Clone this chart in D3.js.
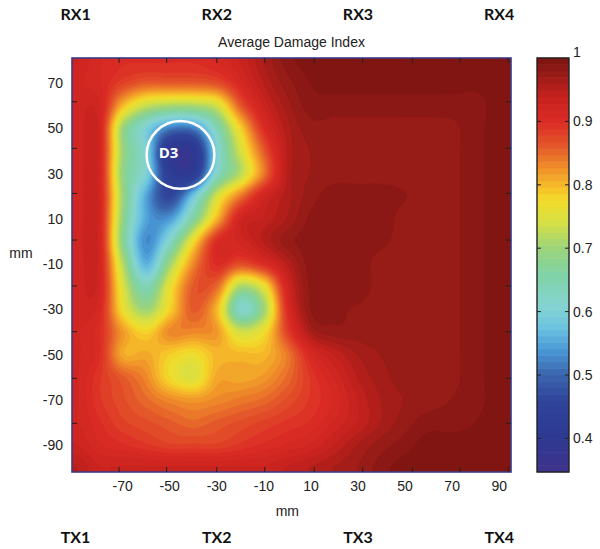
<!DOCTYPE html>
<html><head><meta charset="utf-8">
<script src="https://cdn.jsdelivr.net/npm/d3@7"></script>
<style>body{margin:0;background:#fff}svg{display:block}</style>
</head><body>
<svg id="chart" width="600" height="549"></svg>
<script>
// ---------- data ----------
const gridX = [-90,-80,-70,-60,-50,-40,-30,-20,-10,0,10,20,30,40,50,60,70,80,90];
const gridY = [80,70,60,50,40,30,20,10,0,-10,-20,-30,-40,-50,-60,-70,-80,-90,-100];
const damageIndex = [
 [0.93,0.91,0.90,0.90,0.90,0.90,0.91,0.93,0.96,0.985,0.995,0.995,0.995,0.995,0.995,0.995,0.995,0.995,0.995],
 [0.92,0.91,0.88,0.86,0.86,0.86,0.87,0.91,0.95,0.975,0.99,0.993,0.993,0.993,0.993,0.993,0.993,0.993,0.995],
 [0.92,0.92,0.80,0.73,0.71,0.71,0.74,0.86,0.93,0.965,0.985,0.985,0.985,0.985,0.985,0.985,0.985,0.985,0.995],
 [0.92,0.92,0.70,0.60,0.52,0.52,0.64,0.78,0.90,0.955,0.975,0.975,0.975,0.975,0.975,0.975,0.977,0.986,0.995],
 [0.92,0.92,0.70,0.60,0.40,0.40,0.60,0.74,0.86,0.95,0.97,0.975,0.975,0.975,0.975,0.975,0.977,0.986,0.995],
 [0.92,0.92,0.69,0.60,0.43,0.42,0.62,0.72,0.84,0.95,0.97,0.975,0.975,0.975,0.975,0.975,0.977,0.986,0.995],
 [0.92,0.92,0.70,0.55,0.46,0.58,0.74,0.84,0.92,0.955,0.975,0.985,0.985,0.985,0.98,0.975,0.977,0.986,0.995],
 [0.92,0.92,0.69,0.55,0.54,0.66,0.80,0.92,0.94,0.96,0.982,0.985,0.985,0.985,0.975,0.975,0.977,0.986,0.995],
 [0.92,0.92,0.68,0.53,0.62,0.77,0.90,0.92,0.95,0.975,0.985,0.985,0.985,0.982,0.975,0.975,0.977,0.986,0.995],
 [0.92,0.92,0.72,0.56,0.70,0.83,0.90,0.87,0.90,0.95,0.985,0.985,0.985,0.975,0.975,0.975,0.977,0.986,0.995],
 [0.92,0.92,0.75,0.64,0.76,0.86,0.85,0.71,0.76,0.92,0.982,0.985,0.985,0.975,0.975,0.975,0.977,0.986,0.995],
 [0.92,0.91,0.77,0.70,0.78,0.86,0.80,0.62,0.70,0.90,0.98,0.982,0.978,0.975,0.975,0.975,0.977,0.986,0.995],
 [0.92,0.90,0.82,0.78,0.83,0.83,0.82,0.74,0.77,0.88,0.96,0.975,0.975,0.975,0.975,0.975,0.977,0.986,0.995],
 [0.92,0.90,0.81,0.81,0.785,0.77,0.80,0.80,0.80,0.84,0.91,0.94,0.96,0.97,0.975,0.975,0.977,0.986,0.995],
 [0.92,0.89,0.86,0.83,0.775,0.75,0.81,0.81,0.82,0.85,0.89,0.92,0.95,0.965,0.975,0.975,0.977,0.986,0.995],
 [0.92,0.89,0.87,0.85,0.83,0.82,0.83,0.84,0.85,0.87,0.89,0.91,0.94,0.96,0.97,0.975,0.98,0.986,0.995],
 [0.92,0.90,0.88,0.87,0.86,0.85,0.86,0.87,0.88,0.89,0.90,0.92,0.94,0.96,0.975,0.985,0.985,0.99,0.995],
 [0.93,0.91,0.90,0.89,0.88,0.88,0.88,0.89,0.90,0.91,0.92,0.94,0.96,0.975,0.985,0.995,0.995,0.995,0.995],
 [0.95,0.93,0.93,0.93,0.93,0.93,0.93,0.93,0.93,0.94,0.95,0.96,0.97,0.985,0.995,0.995,0.995,0.995,0.995]
];
const xTickLabels = [-70,-50,-30,-10,10,30,50,70,90];
const yTickLabels = [70,50,30,10,-10,-30,-50,-70,-90];
const xTickMarks = [-71.5,-51.3,-30.0,-9.6,11.4,32.0,53.1,73.3,93.8];
const yTickMarks = [61.7,41.1,21.2,0.6,-19.7,-39.9,-60.5,-80.4];
const colorbarTicks = [0.4,0.5,0.6,0.7,0.8,0.9,1];
const colorRange = [0.347, 1];
const receivers = ["RX1","RX2","RX3","RX4"];
const transmitters = ["TX1","TX2","TX3","TX4"];
const sensorX = [-90,-30,30,90];
const damageSite = {name:"D3", x:-45.4, y:38.2, r:14.4};
const colorStopValues = [0.347,0.40,0.46,0.50,0.54,0.575,0.61,0.66,0.70,0.74,0.775,0.80,0.83,0.86,0.90,0.94,0.97,1.0];
const colorStopColors = ["#40328c","#2e3991","#2f449a","#3a64ac","#4a9ad6","#6cc3e0","#86d4d2","#80d3a4","#9dd47a","#d4e046","#f2dc2a","#f6b82a","#ef8a2a","#e45a2a","#dc2b25","#c5221e","#9c1c17","#7a1410"];
const nLevels = 64;

// ---------- layout ----------
const svg = d3.select("#chart");
const plot = {left:72, right:511, top:58, bottom:472};
const x = d3.scaleLinear().domain([-91.5, 95]).range([plot.left, plot.right]);
const y = d3.scaleLinear().domain([-101.9, 81.05]).range([plot.bottom, plot.top]);
const color = d3.scaleLinear().domain(colorStopValues).range(colorStopColors).interpolate(d3.interpolateRgb).clamp(true);

// bicubic (Catmull-Rom) rendering of the grid
function cr(p0,p1,p2,p3,t){return 0.5*((2*p1)+(-p0+p2)*t+(2*p0-5*p1+4*p2-p3)*t*t+(-p0+3*p1-3*p2+p3)*t*t*t);}
function valueAt(xm, ym){
  const nC = gridX.length, nR = gridY.length;
  let u = (xm - gridX[0])/(gridX[1]-gridX[0]);
  let v = (ym - gridY[0])/(gridY[1]-gridY[0]);
  u = Math.max(0, Math.min(nC-1, u)); v = Math.max(0, Math.min(nR-1, v));
  const i = Math.min(nC-2, Math.floor(u)), j = Math.min(nR-2, Math.floor(v));
  const tu = u-i, tv = v-j;
  const g = (r,c)=>damageIndex[Math.max(0,Math.min(nR-1,r))][Math.max(0,Math.min(nC-1,c))];
  const rows = [];
  for(let k=-1;k<=2;k++) rows.push(cr(g(j+k,i-1),g(j+k,i),g(j+k,i+1),g(j+k,i+2),tu));
  return Math.max(colorRange[0], Math.min(1, cr(rows[0],rows[1],rows[2],rows[3],tv)));
}

const step = 0.8;
const X0 = x.domain()[0] - step, Y0 = y.domain()[1] + step;
const nx = Math.ceil((x.domain()[1]-X0)/step)+3;
const ny = Math.ceil((Y0-y.domain()[0])/step)+3;
const values = new Array(nx*ny);
for(let j=0;j<ny;j++) for(let i=0;i<nx;i++) values[j*nx+i] = valueAt(X0+i*step, Y0-j*step);

const levelStep = (colorRange[1]-colorRange[0])/nLevels;
const levels = d3.range(nLevels).map(k=>colorRange[0]+k*levelStep);
levels[0] = colorRange[0]-1e-6;
const contours = d3.contours().size([nx,ny]).thresholds(levels)(values);
const proj = d3.geoTransform({point:function(cx,cy){this.stream.point(x(X0+(cx-0.5)*step), y(Y0-(cy-0.5)*step));}});
const path = d3.geoPath(proj);

svg.append("defs").append("clipPath").attr("id","clip").append("rect")
  .attr("x",plot.left).attr("y",plot.top).attr("width",plot.right-plot.left).attr("height",plot.bottom-plot.top);

svg.append("g").attr("clip-path","url(#clip)").selectAll("path").data(contours).join("path")
  .attr("d",path)
  .attr("fill",(d,i)=>color(Math.max(colorRange[0],levels[i])+levelStep/2))
  .attr("stroke",(d,i)=>color(Math.max(colorRange[0],levels[i])+levelStep/2))
  .attr("stroke-width",0.3);

// frame + ticks
const fr = svg.append("g");
fr.append("rect").attr("x",plot.left).attr("y",plot.top).attr("width",plot.right-plot.left).attr("height",plot.bottom-plot.top)
  .attr("fill","none").attr("stroke","#3c3a86").attr("stroke-width",1.6);
const tickLen = 5;
fr.selectAll(".xtb").data(xTickMarks).join("line").attr("x1",d=>x(d)).attr("x2",d=>x(d))
  .attr("y1",plot.bottom).attr("y2",plot.bottom-tickLen).attr("stroke","#222").attr("stroke-width",1);
fr.selectAll(".xtt").data(xTickMarks).join("line").attr("x1",d=>x(d)).attr("x2",d=>x(d))
  .attr("y1",plot.top).attr("y2",plot.top+tickLen).attr("stroke","#222").attr("stroke-width",1);
fr.selectAll(".ytl").data(yTickMarks).join("line").attr("y1",d=>y(d)).attr("y2",d=>y(d))
  .attr("x1",plot.left).attr("x2",plot.left+tickLen).attr("stroke","#222").attr("stroke-width",1);
fr.selectAll(".ytr").data(yTickMarks).join("line").attr("y1",d=>y(d)).attr("y2",d=>y(d))
  .attr("x1",plot.right).attr("x2",plot.right-tickLen).attr("stroke","#222").attr("stroke-width",1);

const font = "'Liberation Sans', Arial, sans-serif";
svg.append("g").selectAll("text").data(xTickLabels).join("text")
  .attr("x",d=>x(d)).attr("y",491).attr("text-anchor","middle")
  .style("font-family",font).style("font-size","14px").attr("fill","#222").text(d=>d);
svg.append("g").selectAll("text").data(yTickLabels).join("text")
  .attr("x",63).attr("y",d=>y(d)+5).attr("text-anchor","end")
  .style("font-family",font).style("font-size","14px").attr("fill","#222").text(d=>d);
svg.append("text").attr("x",x(0)).attr("y",516).attr("text-anchor","middle")
  .style("font-family",font).style("font-size","14px").attr("fill","#222").text("mm");
svg.append("text").attr("x",21).attr("y",258).attr("text-anchor","middle")
  .style("font-family",font).style("font-size","14px").attr("fill","#222").text("mm");
svg.append("text").attr("x",(plot.left+plot.right)/2).attr("y",47).attr("text-anchor","middle")
  .style("font-family",font).style("font-size","14px").attr("fill","#222").text("Average Damage Index");

// sensors
const bold = "Lato, 'Open Sans', sans-serif";
svg.append("g").selectAll("text").data(receivers).join("text")
  .attr("x",(d,i)=>x(sensorX[i])).attr("y",20).attr("text-anchor","middle")
  .style("font-family",bold).style("font-weight","bold").style("font-size","16px").attr("fill","#111").text(d=>d);
svg.append("g").selectAll("text").data(transmitters).join("text")
  .attr("x",(d,i)=>x(sensorX[i])).attr("y",543).attr("text-anchor","middle")
  .style("font-family",bold).style("font-weight","bold").style("font-size","16px").attr("fill","#111").text(d=>d);

// damage marker
svg.append("circle").attr("cx",x(damageSite.x)).attr("cy",y(damageSite.y))
  .attr("r",x(damageSite.x+damageSite.r)-x(damageSite.x))
  .attr("fill","none").attr("stroke","#fff").attr("stroke-width",2.5);
svg.append("text").attr("x",x(damageSite.x)-12).attr("y",y(damageSite.y)+3)
  .attr("text-anchor","middle").style("font-family","'Open Sans', sans-serif").style("font-weight","bold")
  .style("font-size","15px").attr("fill","#fff").text(damageSite.name);

// colorbar
const cb = {left:537, right:569};
const cy = d3.scaleLinear().domain(colorRange).range([plot.bottom, plot.top]);
const cbg = svg.append("g");
cbg.selectAll("rect").data(levels).join("rect")
  .attr("x",cb.left).attr("width",cb.right-cb.left)
  .attr("y",(d,i)=>cy(colorRange[0]+(i+1)*levelStep)-0.3)
  .attr("height",(d,i)=>cy(colorRange[0]+i*levelStep)-cy(colorRange[0]+(i+1)*levelStep)+0.6)
  .attr("fill",(d,i)=>color(colorRange[0]+(i+0.5)*levelStep));
cbg.append("rect").attr("x",cb.left).attr("y",plot.top).attr("width",cb.right-cb.left).attr("height",plot.bottom-plot.top)
  .attr("fill","none").attr("stroke","#222").attr("stroke-width",1.4);
cbg.selectAll(".cl").data(colorbarTicks.filter(d=>d<1)).join("line").attr("x1",cb.left).attr("x2",cb.left+4)
  .attr("y1",d=>cy(d)).attr("y2",d=>cy(d)).attr("stroke","#222");
cbg.selectAll(".cr").data(colorbarTicks.filter(d=>d<1)).join("line").attr("x1",cb.right).attr("x2",cb.right-4)
  .attr("y1",d=>cy(d)).attr("y2",d=>cy(d)).attr("stroke","#222");
cbg.selectAll("text").data(colorbarTicks).join("text")
  .attr("x",cb.right+4).attr("y",d=>cy(d)+(d===1?-1:5))
  .style("font-family",font).style("font-size","14px").attr("fill","#222").text(d=>d);
</script>
</body></html>
